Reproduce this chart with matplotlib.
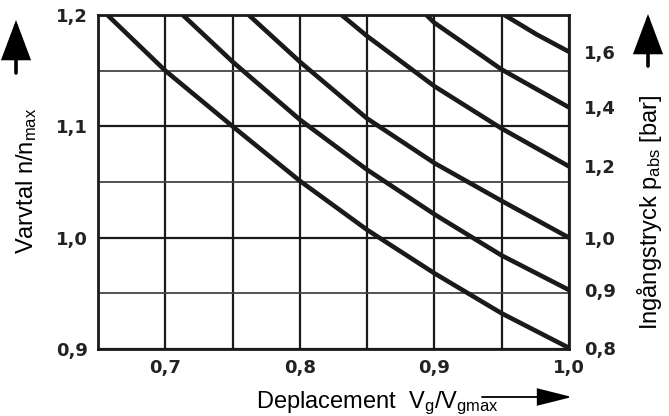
import matplotlib
matplotlib.use('Agg')
import matplotlib.pyplot as plt
from matplotlib.patches import FancyArrowPatch

# displacement (x) vs speed ratio (y), one curve per inlet pressure
p_labels = ["0,8", "0,9", "1,0", "1,2", "1,4", "1,6"]
x_08 = [0.657, 0.70, 0.75, 0.80, 0.85, 0.90, 0.95, 1.00]
y_08 = [1.200, 1.150, 1.100, 1.051, 1.007, 0.968, 0.932, 0.901]
x_09 = [0.713, 0.75, 0.80, 0.85, 0.90, 0.95, 1.00]
y_09 = [1.200, 1.158, 1.106, 1.061, 1.021, 0.984, 0.953]
x_10 = [0.762, 0.80, 0.85, 0.90, 0.95, 1.00]
y_10 = [1.200, 1.158, 1.107, 1.067, 1.033, 1.000]
x_12 = [0.831, 0.85, 0.90, 0.95, 1.00]
y_12 = [1.200, 1.181, 1.136, 1.098, 1.064]
x_14 = [0.894, 0.90, 0.95, 1.00]
y_14 = [1.200, 1.193, 1.151, 1.117]
x_16 = [0.952, 0.976, 1.00]
y_16 = [1.200, 1.1825, 1.167]

x_grid = [0.65, 0.70, 0.75, 0.80, 0.85, 0.90, 0.95, 1.00]
x_labels = ["", "0,7", "", "0,8", "", "0,9", "", "1,0"]
y_major = [0.9, 1.0, 1.1, 1.2]
y_major_labels = ["0,9", "1,0", "1,1", "1,2"]
y_minor = [0.95, 1.05, 1.15]

plt.rcParams['font.family'] = ['Liberation Sans', 'DejaVu Sans']
plt.rcParams['mathtext.default'] = 'regular'

W, H = 669, 416
fig = plt.figure(figsize=(W / 100, H / 100), dpi=100)
ax = fig.add_axes([98 / W, 1 - 349 / H, 471 / W, 334 / H])

ink = '#1a1a1a'
ax.set_xlim(0.65, 1.0)
ax.set_ylim(0.9, 1.2)

for xv in x_grid:
    ax.axvline(xv, color=ink, lw=1.6, zorder=1)
for yv in y_major:
    ax.axhline(yv, color=ink, lw=1.6, zorder=1)
for yv in y_minor:
    ax.axhline(yv, color='#444444', lw=1.3, zorder=1)

curves = [(x_08, y_08), (x_09, y_09), (x_10, y_10),
          (x_12, y_12), (x_14, y_14), (x_16, y_16)]
for xs, ys in curves:
    ax.plot(xs, ys, color=ink, lw=3.3, solid_joinstyle='round',
            solid_capstyle='butt', zorder=3, clip_on=True)

tick_font = dict(family='DejaVu Sans', weight='bold', size=13)
ax.set_xticks(x_grid)
ax.set_xticklabels(x_labels, fontdict=tick_font)
ax.set_yticks(y_major)
ax.set_yticklabels(y_major_labels, fontdict=tick_font)
ax.tick_params(length=0, pad=7, colors='#222222')
for s in ax.spines.values():
    s.set_color(ink)
    s.set_linewidth(2)

ax2 = ax.twinx()
ax2.set_ylim(0.9, 1.2)
ax2.set_yticks([ys[-1] for xs, ys in curves])
ax2.set_yticklabels(p_labels, fontdict=tick_font)
ax2.tick_params(length=0, pad=11, colors='#222222')
for s in ax2.spines.values():
    s.set_visible(False)

def fx(px):
    return px / W

def fy(py):
    return 1 - py / H

fig.text(fx(27), fy(181), 'Varvtal n/n$_{max}$', rotation=90,
         ha='center', va='center', fontsize=17)
fig.text(fx(650), fy(212), 'Ingångstryck p$_{abs}$ [bar]', rotation=90,
         ha='center', va='center', fontsize=17)
fig.text(fx(256), fy(408), 'Deplacement  V$_{g}$/V$_{gmax}$',
         ha='left', va='baseline', fontsize=17)

# arrows next to the axis titles (head sizes in points)
def arrow(p0, p1, hl, hw, lw):
    a = FancyArrowPatch((fx(p0[0]), fy(p0[1])), (fx(p1[0]), fy(p1[1])),
                        transform=fig.transFigure,
                        arrowstyle='-|>,head_length=%g,head_width=%g' % (hl, hw),
                        mutation_scale=1, color='black', lw=lw,
                        shrinkA=0, shrinkB=0, joinstyle='miter')
    fig.add_artist(a)

arrow((16, 73), (16, 20), 24, 9, 2.6)
arrow((648, 66), (648, 14), 24, 9, 2.6)
arrow((482, 397), (572, 397), 22, 5.5, 1.3)

fig.savefig('out.png', dpi=100)
